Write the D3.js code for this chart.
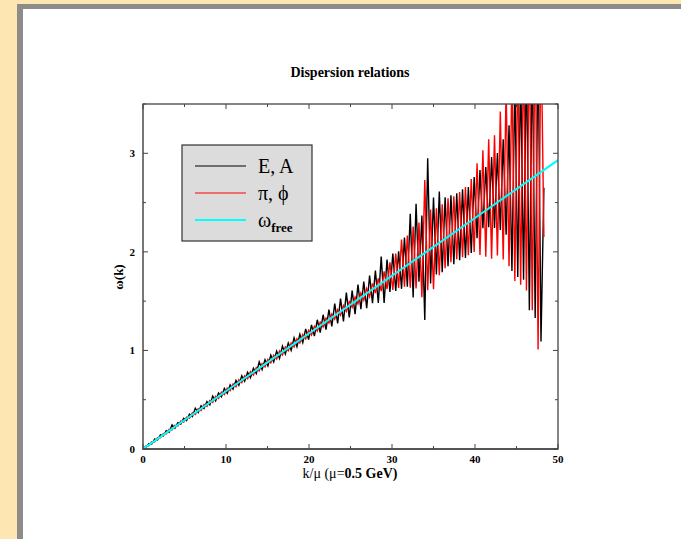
<!DOCTYPE html>
<html>
<head>
<meta charset="utf-8">
<script src="https://cdn.jsdelivr.net/npm/d3@7"></script>
<style>
  body { margin: 0; background: #fde6b2; }
  #page { position: absolute; left: 17px; top: 4px; width: 700px; height: 560px;
          background: #fff; border-left: 6px solid #8e8c88; border-top: 5px solid #8e8c88; }
  text { font-family: "Liberation Serif", "Times New Roman", serif; }
</style>
</head>
<body>
<div id="page"></div>
<script>
// sampling of k/mu: first value and spacing
const k0 = 0, dk = 0.35;

const omegaEA = [
  0.000, 0.010, 0.056, 0.050, 0.100, 0.093, 0.143, 0.132, 0.186, 0.170,
  0.245, 0.211, 0.266, 0.252, 0.312, 0.288, 0.353, 0.329, 0.414, 0.370,
  0.440, 0.411, 0.481, 0.447, 0.537, 0.488, 0.568, 0.529, 0.614, 0.565,
  0.650, 0.606, 0.696, 0.647, 0.742, 0.688, 0.778, 0.724, 0.819, 0.765,
  0.885, 0.806, 0.906, 0.842, 0.952, 0.883, 0.993, 0.919, 1.044, 0.965,
  1.076, 1.001, 1.127, 1.037, 1.163, 1.078, 1.219, 1.109, 1.260, 1.145,
  1.311, 1.181, 1.362, 1.212, 1.413, 1.243, 1.474, 1.274, 1.525, 1.295,
  1.586, 1.336, 1.607, 1.367, 1.668, 1.418, 1.699, 1.429, 1.760, 1.480,
  1.811, 1.481, 1.952, 1.482, 1.923, 1.593, 1.984, 1.604, 2.005, 1.625,
  2.146, 1.646, 2.387, 1.537, 2.488, 1.698, 2.369, 1.310, 2.950, 1.680,
  2.551, 1.771, 2.612, 1.793, 2.553, 1.854, 2.574, 1.875, 2.595, 1.916,
  2.636, 1.937, 2.657, 1.988, 2.758, 2.139, 2.829, 2.240, 2.860, 2.251,
  2.961, 2.242, 3.002, 2.223, 3.143, 2.174, 3.284, 1.805, 3.725, 1.746,
  3.866, 1.717, 4.007, 1.408, 4.098, 1.329, 4.189, 1.090, 2.650
];

const omegaPiPhi = [
  0.000, 0.031, 0.033, 0.074, 0.072, 0.115, 0.113, 0.158, 0.152, 0.199,
  0.193, 0.241, 0.234, 0.283, 0.273, 0.324, 0.313, 0.367, 0.349, 0.408,
  0.390, 0.451, 0.431, 0.492, 0.472, 0.535, 0.513, 0.576, 0.552, 0.617,
  0.593, 0.660, 0.631, 0.702, 0.672, 0.743, 0.712, 0.785, 0.749, 0.826,
  0.792, 0.867, 0.833, 0.910, 0.874, 0.951, 0.913, 0.994, 0.954, 1.035,
  0.996, 1.076, 1.035, 1.119, 1.076, 1.160, 1.117, 1.203, 1.156, 1.244,
  1.197, 1.286, 1.237, 1.328, 1.277, 1.369, 1.318, 1.412, 1.357, 1.455,
  1.396, 1.496, 1.437, 1.542, 1.473, 1.583, 1.509, 1.629, 1.545, 1.680,
  1.581, 1.731, 1.602, 1.802, 1.623, 1.893, 1.614, 1.984, 1.635, 2.125,
  1.646, 2.166, 1.637, 2.257, 1.628, 2.298, 1.539, 2.729, 1.610, 2.430,
  1.621, 2.441, 1.762, 2.483, 1.833, 2.544, 1.894, 2.565, 1.925, 2.606,
  1.946, 2.657, 1.967, 2.738, 1.998, 2.899, 1.969, 3.030, 1.950, 3.141,
  1.931, 3.182, 1.962, 3.423, 1.923, 3.664, 1.854, 3.805, 1.705, 3.946,
  1.666, 4.087, 1.607, 4.228, 1.408, 4.369, 1.009, 4.310, 2.150
];

const kFree = [0, 10, 20, 30, 40, 50];
const omegaFree = [0, 0.586, 1.172, 1.758, 2.344, 2.930];

const xTicks = [0, 10, 20, 30, 40, 50];
const yTicks = [0, 1, 2, 3];
const legendLabels = ["E, A", "π, ϕ", "ω"];
const colors = ["#000000", "#ff0000", "#00ffff"];

const svg = d3.select("body").append("svg")
  .attr("width", 681).attr("height", 539)
  .style("position", "absolute").style("left", 0).style("top", 0);

const plotL = 143, plotR = 558, plotT = 104, plotB = 449;

const x = d3.scaleLinear().domain([0, 50]).range([plotL, plotR]);
const y = d3.scaleLinear().domain([0, 3.5]).range([plotB, plotT]);

svg.append("defs").append("clipPath").attr("id", "clip")
  .append("rect").attr("x", plotL).attr("y", plotT)
  .attr("width", plotR - plotL).attr("height", plotB - plotT);

const line = d3.line().x(d => x(d[0])).y(d => y(d[1]));
const curves = svg.append("g").attr("clip-path", "url(#clip)");

curves.append("path")
  .datum(omegaEA.map((v, i) => [k0 + i * dk, v]))
  .attr("fill", "none").attr("stroke", colors[0]).attr("stroke-width", 1.4)
  .attr("d", line);

curves.append("path")
  .datum(omegaPiPhi.map((v, i) => [k0 + i * dk, v]))
  .attr("fill", "none").attr("stroke", colors[1]).attr("stroke-width", 1.4)
  .attr("d", line);

curves.append("path")
  .datum(kFree.map((k, i) => [k, omegaFree[i]]))
  .attr("fill", "none").attr("stroke", colors[2]).attr("stroke-width", 2)
  .attr("d", line);

// frame
svg.append("rect").attr("x", plotL).attr("y", plotT)
  .attr("width", plotR - plotL).attr("height", plotB - plotT)
  .attr("fill", "none").attr("stroke", "#444").attr("stroke-width", 1.3);
svg.append("line").attr("x1", plotL).attr("x2", plotL).attr("y1", plotT).attr("y2", plotB + 1)
  .attr("stroke", "#777").attr("stroke-width", 2);
svg.append("line").attr("x1", plotL).attr("x2", plotR).attr("y1", plotB).attr("y2", plotB)
  .attr("stroke", "#555").attr("stroke-width", 2);

// ticks, pointing inward on all four sides
const ax = svg.append("g").attr("stroke", "#444").attr("stroke-width", 1);
d3.range(0, 50.1, 5).forEach(v => {
  const len = v % 10 === 0 ? 5 : 3;
  ax.append("line").attr("x1", x(v)).attr("x2", x(v)).attr("y1", plotB).attr("y2", plotB - len);
  ax.append("line").attr("x1", x(v)).attr("x2", x(v)).attr("y1", plotT).attr("y2", plotT + len);
});
d3.range(0, 3.51, 0.5).forEach(v => {
  const len = v % 1 === 0 ? 5 : 3;
  ax.append("line").attr("y1", y(v)).attr("y2", y(v)).attr("x1", plotL).attr("x2", plotL + len);
  ax.append("line").attr("y1", y(v)).attr("y2", y(v)).attr("x1", plotR).attr("x2", plotR - len);
});

svg.selectAll(".xt").data(xTicks).join("text")
  .attr("x", d => x(d)).attr("y", plotB + 14)
  .attr("text-anchor", "middle").attr("font-size", 11).attr("font-weight", "bold")
  .text(d => d);
svg.selectAll(".yt").data(yTicks).join("text")
  .attr("x", plotL - 8).attr("y", d => y(d) + 4)
  .attr("text-anchor", "end").attr("font-size", 11).attr("font-weight", "bold")
  .text(d => d);

svg.append("text").attr("x", 350).attr("y", 77).attr("text-anchor", "middle")
  .attr("font-size", 14).attr("font-weight", "bold").text("Dispersion relations");

const xl = svg.append("text").attr("x", 350).attr("y", 478).attr("text-anchor", "middle")
  .attr("font-size", 14);
xl.append("tspan").text("k/μ (μ=");
xl.append("tspan").attr("font-weight", "bold").text("0.5 GeV)");

svg.append("text").attr("transform", "translate(123,277) rotate(-90)")
  .attr("text-anchor", "middle").attr("font-size", 13).attr("font-weight", "bold")
  .text("ω(k)");

// legend
const lg = svg.append("g");
lg.append("rect").attr("x", 182).attr("y", 145).attr("width", 130).attr("height", 96)
  .attr("fill", "#dcdcdc").attr("stroke", "#333").attr("stroke-width", 1.2);
legendLabels.forEach((t, i) => {
  const ly = 166 + i * 27;
  lg.append("line").attr("x1", 195).attr("x2", 246).attr("y1", ly).attr("y2", ly)
    .attr("stroke", colors[i]).attr("stroke-width", i === 2 ? 2 : 1.2);
  const tx = lg.append("text").attr("x", 258).attr("y", ly + 7).attr("font-size", 20).text(t);
  if (i === 2) {
    tx.append("tspan").attr("font-size", 13).attr("font-weight", "bold").attr("dy", 5).text("free");
  }
});
</script>
</body>
</html>
